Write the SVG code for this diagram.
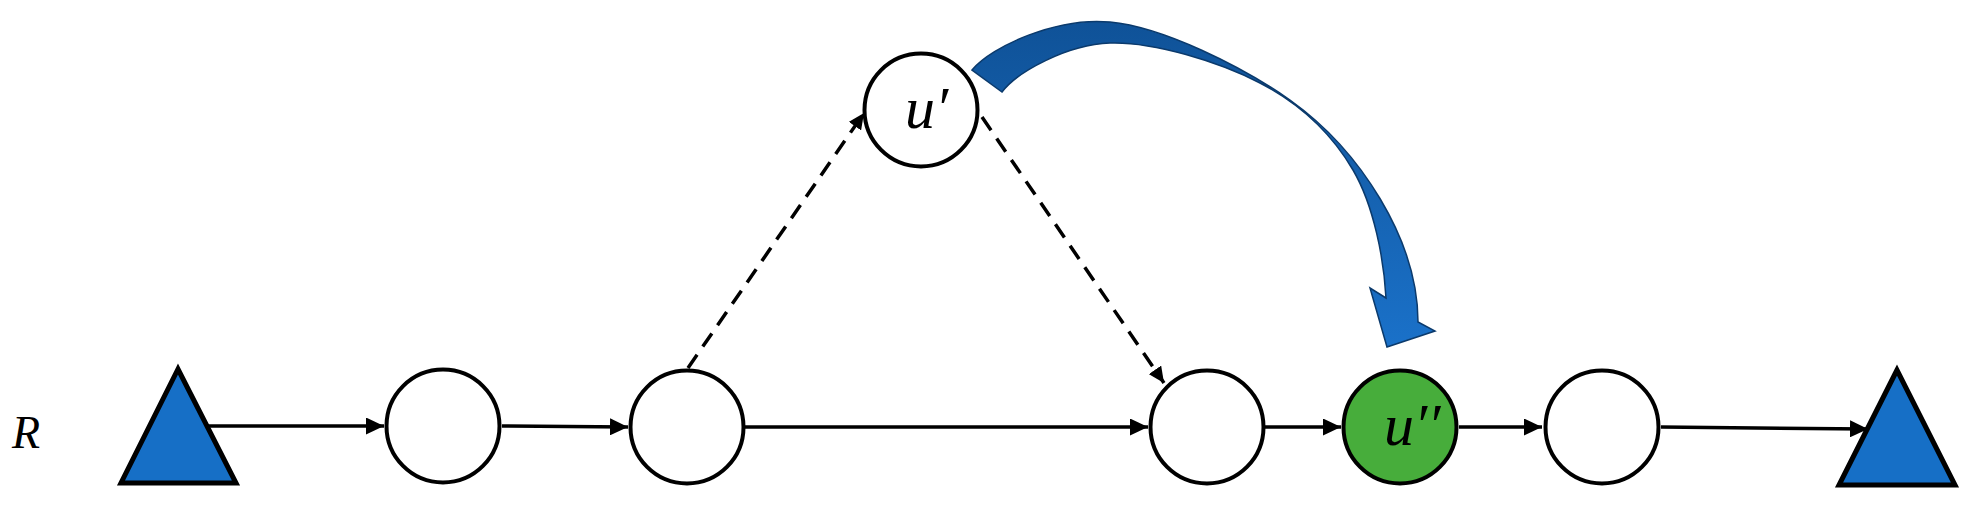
<svg xmlns="http://www.w3.org/2000/svg" width="1976" height="510" viewBox="0 0 1976 510">
<style>
.node{fill:#ffffff;stroke:#000;stroke-width:4}
.green{fill:#47ad3b}
.tri{fill:#166fc6;stroke:#000;stroke-width:5;stroke-linejoin:miter}
.edge{fill:none;stroke:#000;stroke-width:3.5}
.dash{stroke-dasharray:16 10}
.lbl{font-family:"Liberation Serif","DejaVu Serif",serif;font-style:italic;fill:#000}
</style>
<defs>
<marker id="ah" markerUnits="userSpaceOnUse" markerWidth="18" markerHeight="17" refX="18" refY="8.5" orient="auto">
<path d="M0,0 L18,8.5 L0,17 z" fill="#000"/>
</marker>
<marker id="ahs" markerUnits="userSpaceOnUse" markerWidth="16" markerHeight="15" refX="16" refY="7.5" orient="auto">
<path d="M0,0 L16,7.5 L0,15 z" fill="#000"/>
</marker>
<linearGradient id="bg" x1="0" y1="0" x2="0" y2="1">
<stop offset="0" stop-color="#0f5298"/>
<stop offset="0.45" stop-color="#1560ad"/>
<stop offset="1" stop-color="#1a71c9"/>
</linearGradient>
</defs>
<g id="connectors">
<line class="edge" x1="208" y1="426" x2="384" y2="426" marker-end="url(#ah)"/>
<line class="edge" x1="502" y1="426" x2="628" y2="427" marker-end="url(#ah)"/>
<line class="edge" x1="745" y1="427" x2="1148" y2="427" marker-end="url(#ah)"/>
<line class="edge" x1="1265" y1="427" x2="1341" y2="427" marker-end="url(#ah)"/>
<line class="edge" x1="1459" y1="427" x2="1542" y2="427" marker-end="url(#ah)"/>
<line class="edge" x1="1661" y1="427" x2="1868" y2="429" marker-end="url(#ah)"/>
<line class="edge dash" x1="688" y1="368" x2="864" y2="113" marker-end="url(#ahs)"/>
<line class="edge dash" x1="982" y1="117" x2="1164" y2="383" marker-end="url(#ahs)"/>
<path id="curved-arrow" d="M972,70 C992,46 1057,17 1110,22 C1163,27 1241.7,66.2 1290,100 C1360,150 1418,240 1418,322 L1435,331 L1387,347 L1370,288 L1386,298 C1384,260 1374,205.8 1353,170 C1332,134.2 1300.5,104.2 1260,83 C1219.5,61.8 1153,41.5 1110,43 C1067,44.5 1017,72 1002,92 Z" fill="url(#bg)" stroke="#0b3a6c" stroke-width="1.5" stroke-linejoin="miter"/>
</g>
<g id="source"><polygon class="tri" points="178,369 121,483 236,483"/></g>
<g id="sink"><polygon class="tri" points="1897,370 1839,485 1955,485"/></g>
<g id="n1"><circle class="node" cx="443" cy="426" r="56.5"/></g>
<g id="n2"><circle class="node" cx="687" cy="427" r="56.5"/></g>
<g id="n-u1"><circle class="node" cx="921" cy="110" r="56.5"/><text class="lbl" x="905" y="128" font-size="60">u′</text></g>
<g id="n3"><circle class="node" cx="1207" cy="427" r="56.5"/></g>
<g id="n-u2"><circle class="node green" cx="1400" cy="427" r="56.5"/><text class="lbl" x="1384" y="445" font-size="60">u′′</text></g>
<g id="n5"><circle class="node" cx="1602" cy="427" r="56.5"/></g>
<g id="label-R"><text class="lbl" x="12" y="448" font-size="46">R</text></g>
</svg>
